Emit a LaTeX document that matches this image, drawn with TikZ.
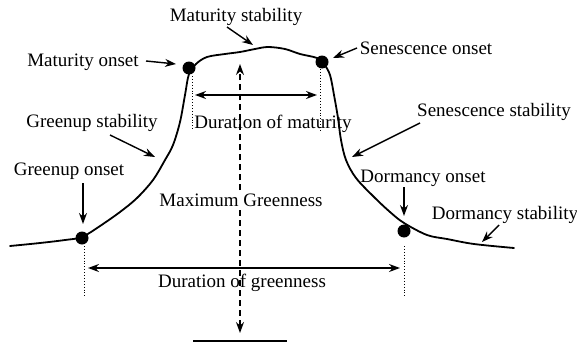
\documentclass[tikz,border=0pt]{standalone}
\usepackage{fontspec}
\setmainfont{Liberation Serif}
\usetikzlibrary{arrows.meta}
\begin{document}
\begin{tikzpicture}[x=1pt,y=-1pt,
  lbl/.style={inner sep=0pt, font=\fontsize{19}{21}\selectfont},
  arr/.style={line width=1.4pt, -{Stealth[length=11pt,width=8pt]}},
  dbl/.style={line width=1.4pt, {Stealth[length=11pt,width=8pt]}-{Stealth[length=11pt,width=8pt]}},
  curve/.style={line width=1.8pt, line join=round, line cap=round},
  dot/.style={circle, fill=black, minimum size=13pt, inner sep=0pt},
  guide/.style={line width=0.9pt, dotted},
  dashline/.style={line width=1.2pt, dash pattern=on 6pt off 4pt, -{Stealth[length=11pt,width=8pt]}}]
\useasboundingbox (0,0) rectangle (577,345);

% phenology curve
\draw[curve] plot[smooth, tension=0.55] coordinates {
 (10,246) (40,243) (65,240) (82,237) (100,226) (120,212) (137,198) (153,180)
 (165,160) (173,145) (180,122) (185,95) (189,74) (196,64) (207,57) (225,54)
 (240,52) (255,49) (268,47) (285,49) (300,54) (317,58) (324,64) (330,75)
 (334,95) (338,118) (341,140) (346,160) (356,178) (374,197) (390,212)
 (404,223) (427,235) (447,239) (474,244) (514,248)};

% dots
\node[dot] (go) at (82,238) {};
\node[dot] (mo) at (189,68) {};
\node[dot] (so) at (322,62) {};
\node[dot] (do) at (404,231) {};

% dotted guides
\coordinate (g1) at (84,246);  \coordinate (g2) at (84,297);
\coordinate (m1) at (192,76);  \coordinate (m2) at (192,131);
\coordinate (s1) at (320,69);  \coordinate (s2) at (320,131);
\coordinate (d1) at (404,246); \coordinate (d2) at (404,297);
\draw[guide] (g1) -- (g2);
\draw[guide] (m1) -- (m2);
\draw[guide] (s1) -- (s2);
\draw[guide] (d1) -- (d2);

% maximum greenness dashed arrows
\coordinate (mgtop) at (240,64);
\coordinate (mgbot) at (240,333);
\coordinate (mgmid) at (240,200);
\draw[dashline] (mgmid) -- (mgtop);
\draw[dashline] (mgmid) -- (mgbot);
\node[lbl, fill=white, inner sep=3pt] (mg) at (241,200) {Maximum Greenness};

% base line
\coordinate (b1) at (193,341); \coordinate (b2) at (287,341);
\draw[line width=1.5pt] (b1) -- (b2);

% duration arrows
\coordinate (dm1) at (195,95); \coordinate (dm2) at (317,95);
\draw[dbl] (dm1) -- (dm2);
\node[lbl] (dml) at (273,124) {Duration of maturity};
\coordinate (dg1) at (88,268); \coordinate (dg2) at (400,268);
\draw[dbl] (dg1) -- (dg2);
\node[lbl] (dgl) at (242,283) {Duration of greenness};

% labels
\node[lbl] (msl) at (236,17) {Maturity stability};
\node[lbl] (mol) at (83,62) {Maturity onset};
\node[lbl] (sol) at (426,48) {Senescence onset};
\node[lbl] (ssl) at (494,112) {Senescence stability};
\node[lbl] (gsl) at (92,123) {Greenup stability};
\node[lbl] (gol) at (69,171) {Greenup onset};
\node[lbl] (dol) at (423,178) {Dormancy onset};
\node[lbl] (dsl) at (505,215) {Dormancy stability};

% label arrows
\coordinate (ms1) at (227,27); \coordinate (ms2) at (253,45);
\draw[arr] (ms1) -- (ms2);
\coordinate (mo1) at (146,61); \coordinate (mo2) at (176,64);
\draw[arr] (mo1) -- (mo2);
\coordinate (so1) at (357,48); \coordinate (so2) at (333,58);
\draw[arr] (so1) -- (so2);
\coordinate (ss1) at (420,123); \coordinate (ss2) at (352,157);
\draw[arr] (ss1) -- (ss2);
\coordinate (gs1) at (110,135); \coordinate (gs2) at (155,157);
\draw[arr] (gs1) -- (gs2);
\coordinate (go1) at (83,183); \coordinate (go2) at (83,224);
\draw[arr] (go1) -- (go2);
\coordinate (do1) at (404,187); \coordinate (do2) at (404,216);
\draw[arr] (do1) -- (do2);
\coordinate (ds1) at (499,225); \coordinate (ds2) at (482,242);
\draw[arr] (ds1) -- (ds2);
\end{tikzpicture}
\end{document}
